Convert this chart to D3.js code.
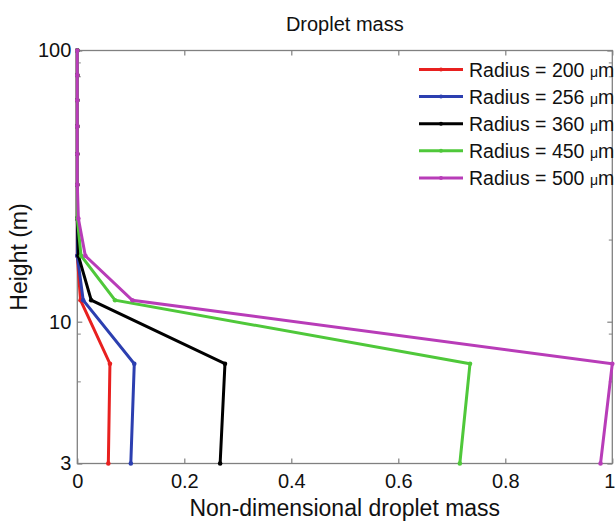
<!DOCTYPE html>
<html>
<head>
<meta charset="utf-8">
<script src="https://cdn.jsdelivr.net/npm/d3@7"></script>
<style>
  html, body { margin: 0; padding: 0; background: #fff; }
  svg { display: block; font-family: "Liberation Sans", Arial, Helvetica, sans-serif; }
</style>
</head>
<body>
<svg id="chart" width="615" height="527"></svg>
<script>
// ---- data ----
const heights = [3, 7, 12, 17.5, 24, 32, 41.5, 52.5, 65.5, 81, 100];
const radiusLabels = ["200", "256", "360", "450", "500"];
const mass200 = [0.058, 0.061, 0.006, 0, 0, 0, 0, 0, 0, 0, 0];
const mass256 = [0.100, 0.1065, 0.011, 0, 0, 0, 0, 0, 0, 0, 0];
const mass360 = [0.267, 0.276, 0.026, 0.002, 0, 0, 0, 0, 0, 0, 0];
const mass450 = [0.715, 0.734, 0.0705, 0.007, 0, 0, 0, 0, 0, 0, 0];
const mass500 = [0.978, 1.0, 0.103, 0.015, 0.002, 0, 0, 0, 0, 0, 0];
const seriesColors = ["#e8201f", "#2c3fb0", "#000000", "#4fc83a", "#b83cb8"];
const xTicks = [0, 0.2, 0.4, 0.6, 0.8, 1];
const yTicks = [3, 10, 100];
const yMinorTicks = [6, 9, 20, 80, 90];

const series = [mass200, mass256, mass360, mass450, mass500].map((vals, i) => ({
  label: radiusLabels[i],
  color: seriesColors[i],
  points: heights.map((h, j) => ({ h: h, v: vals[j] }))
}));

// ---- layout ----
const L = 77.3, R = 612.3, T = 50.5, B = 463.5;
const svg = d3.select("#chart");
const x = d3.scaleLinear().domain([0, 1]).range([L, R]);
const y = d3.scaleLog().domain([3, 100]).range([B, T]);
const axisColor = "#808080";
const fontSize = 20;

// box
svg.append("rect").attr("x", L).attr("y", T).attr("width", R - L).attr("height", B - T)
  .attr("fill", "#fff").attr("stroke", axisColor).attr("stroke-width", 1.3);

function styleAxis(g) {
  g.select(".domain").remove();
  g.selectAll(".tick line").attr("stroke", axisColor).attr("stroke-width", 1.2);
  g.selectAll(".tick text").attr("fill", "#111").style("font-size", fontSize + "px")
    .style("font-family", '"Liberation Sans", Arial, sans-serif');
}

const fmtX = d => (d === 0 ? "0" : d === 1 ? "1" : d3.format(".1f")(d));

const gx = svg.append("g").attr("transform", `translate(0,${B})`)
  .call(d3.axisBottom(x).tickValues(xTicks).tickFormat(fmtX).tickSizeInner(-5).tickSizeOuter(0).tickPadding(10))
  .call(styleAxis);
// keep the last label inside the window (reference shows it at the very edge)
gx.selectAll(".tick text").filter(d => d === 1).attr("dx", -3);

svg.append("g").attr("transform", `translate(0,${T})`)
  .call(d3.axisTop(x).tickValues(xTicks).tickFormat("").tickSizeInner(-5).tickSizeOuter(0))
  .call(styleAxis);
svg.append("g").attr("transform", `translate(${L},0)`)
  .call(d3.axisLeft(y).tickValues(yTicks).tickFormat(d3.format("d")).tickSizeInner(-5).tickSizeOuter(0).tickPadding(6))
  .call(styleAxis);
svg.append("g").attr("transform", `translate(${R},0)`)
  .call(d3.axisRight(y).tickValues(yTicks).tickFormat("").tickSizeInner(-5).tickSizeOuter(0))
  .call(styleAxis);

// minor ticks
yMinorTicks.forEach(v => {
  svg.append("line").attr("x1", L).attr("x2", L + 3.5).attr("y1", y(v)).attr("y2", y(v))
    .attr("stroke", axisColor).attr("stroke-width", 1);
  svg.append("line").attr("x1", R).attr("x2", R - 3.5).attr("y1", y(v)).attr("y2", y(v))
    .attr("stroke", axisColor).attr("stroke-width", 1);
});

// lines
const line = d3.line().x(d => x(d.v)).y(d => y(d.h));
const gData = svg.append("g");
series.forEach(s => {
  gData.append("path").datum(s.points).attr("d", line)
    .attr("fill", "none").attr("stroke", s.color).attr("stroke-width", 3)
    .attr("stroke-linejoin", "miter");
  gData.selectAll(null).data(s.points).enter().append("circle")
    .attr("cx", d => x(d.v)).attr("cy", d => y(d.h)).attr("r", 2.3).attr("fill", s.color);
});

// title and axis labels
svg.append("text").attr("x", (L + R) / 2).attr("y", 31).attr("text-anchor", "middle")
  .style("font-size", "20px").attr("fill", "#111").text("Droplet mass");
svg.append("text").attr("x", (L + R) / 2).attr("y", 516).attr("text-anchor", "middle")
  .style("font-size", "23px").attr("fill", "#111").text("Non-dimensional droplet mass");
svg.append("text").attr("transform", `translate(27,${(T + B) / 2}) rotate(-90)`).attr("text-anchor", "middle")
  .style("font-size", "23px").attr("fill", "#111").text("Height (m)");

// legend
const legY0 = 69.5, legDy = 27.1;
const leg = svg.append("g");
series.forEach((s, i) => {
  const yy = legY0 + i * legDy;
  leg.append("line").attr("x1", 419).attr("x2", 463).attr("y1", yy).attr("y2", yy)
    .attr("stroke", s.color).attr("stroke-width", 3);
  leg.append("circle").attr("cx", 441).attr("cy", yy).attr("r", 2).attr("fill", s.color);
  const t = leg.append("text").attr("x", 469).attr("y", yy).attr("dy", "0.36em")
    .style("font-size", "19.5px").attr("fill", "#111");
  t.append("tspan").text("Radius = " + s.label + " ");
  t.append("tspan").style("font-size", "14px").text("μ");
  t.append("tspan").text("m");
});
</script>
</body>
</html>
